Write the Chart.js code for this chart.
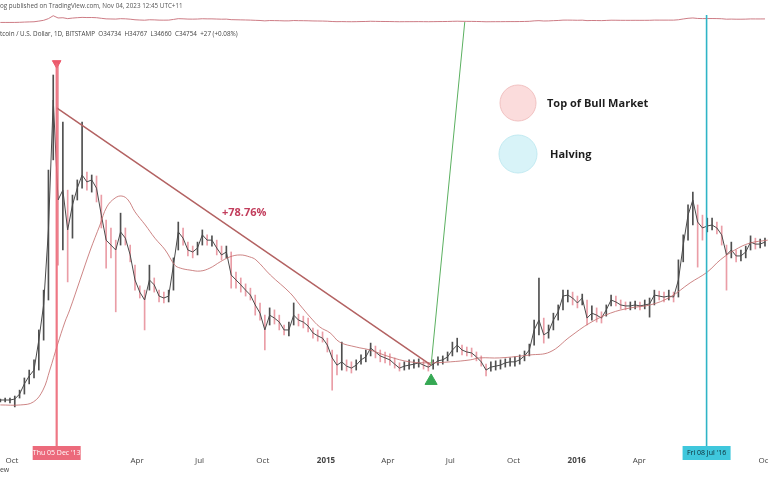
<!DOCTYPE html>
<html>
<head>
<meta charset="utf-8">
<script src="https://cdn.jsdelivr.net/npm/chart.js@4.4.0/dist/chart.umd.min.js"></script>
<style>
  html, body { margin: 0; padding: 0; background: #fff; }
</style>
</head>
<body>
<canvas id="btc" width="768" height="480"></canvas>
<script>
// BTC/USD (Bitstamp), one sample per week.
// Days are counted from 1 Oct 2013.
const firstWeekDay = -17;
const weekCloses = [
  140, 140, 140, 143, 158, 189, 213, 231, 322, 429, 657, 1052, 748, 778, 657, 733,
  784, 824, 803, 809, 784, 702, 626, 611, 596, 651, 632, 581, 505, 468, 444, 505,
  490, 456, 450, 456, 550, 651, 632, 596, 590, 602, 642, 626, 626, 602, 581, 590,
  520, 505, 490, 474, 459, 429, 404, 353, 398, 389, 377, 353, 353, 398, 383, 377,
  365, 344, 335, 328, 307, 268, 246, 256, 243, 237, 246, 262, 271, 298, 286, 274,
  268, 262, 249, 237, 243, 246, 249, 253, 246, 240, 249, 259, 262, 271, 292, 307,
  292, 286, 283, 271, 256, 231, 240, 243, 246, 253, 256, 256, 262, 274, 292, 353,
  383, 338, 347, 383, 408, 456, 459, 450, 435, 450, 389, 404, 398, 389, 414, 444,
  438, 429, 426, 426, 429, 426, 429, 432, 459, 456, 453, 456, 453, 505, 611, 702,
  748, 681, 663, 669, 672, 663, 642, 581, 596, 578, 578, 590, 620, 614, 614, 620
];
const weekHighs = [
  143, 146, 146, 152, 170, 207, 231, 262, 353, 474, 839, 1128, 1168, 985, 778, 763,
  809, 985, 833, 824, 821, 763, 687, 663, 626, 708, 663, 611, 550, 487, 474, 550,
  511, 474, 468, 474, 572, 681, 663, 620, 608, 620, 657, 642, 639, 626, 608, 608,
  590, 529, 511, 493, 480, 459, 435, 398, 420, 414, 398, 368, 377, 435, 401, 395,
  389, 359, 353, 347, 328, 292, 277, 316, 262, 256, 262, 277, 292, 313, 304, 292,
  286, 280, 268, 253, 256, 262, 262, 265, 259, 253, 262, 271, 274, 286, 316, 328,
  307, 301, 298, 286, 274, 249, 256, 259, 262, 265, 268, 271, 277, 289, 310, 383,
  511, 389, 368, 404, 429, 474, 474, 468, 456, 462, 444, 426, 420, 408, 429, 459,
  456, 444, 438, 438, 441, 438, 444, 450, 474, 471, 468, 474, 468, 566, 642, 733,
  772, 733, 702, 693, 693, 681, 669, 611, 620, 596, 596, 608, 639, 632, 629, 632
];
const weekLows = [
  134, 134, 131, 119, 146, 158, 189, 207, 231, 322, 444, 870, 550, 596, 499, 632,
  748, 784, 778, 772, 742, 663, 541, 572, 408, 611, 611, 560, 474, 450, 353, 474,
  468, 438, 435, 438, 474, 596, 611, 578, 572, 581, 611, 611, 608, 581, 566, 572,
  480, 480, 468, 456, 444, 398, 383, 292, 368, 371, 353, 338, 335, 368, 365, 359,
  347, 328, 319, 316, 286, 170, 216, 231, 228, 222, 231, 249, 256, 274, 268, 256,
  253, 246, 237, 228, 231, 234, 237, 240, 234, 228, 234, 246, 249, 259, 274, 286,
  277, 274, 271, 259, 243, 213, 228, 231, 234, 240, 243, 243, 249, 259, 274, 307,
  338, 313, 328, 353, 383, 414, 438, 429, 420, 429, 368, 383, 377, 374, 395, 426,
  426, 417, 414, 414, 417, 414, 417, 392, 429, 444, 438, 444, 438, 453, 560, 626,
  672, 544, 626, 651, 657, 645, 611, 474, 572, 560, 563, 572, 596, 599, 602, 608
];

// moving average, read at a handful of points
const maDays = [
  -17, 12, 31, 45, 55, 66, 77, 84, 99, 114, 128, 138, 150, 160, 169, 179,
  194, 208, 223, 237, 245, 259, 274, 288, 303, 317, 332, 346, 355, 376, 405, 419,
  434, 448, 463, 477, 501, 521, 550, 579, 608, 638, 667, 681, 710, 754, 783, 812,
  841, 871, 900, 929, 958, 987, 1012, 1031, 1052, 1074, 1100
];
const maValues = [
  125, 125, 134, 170, 231, 307, 377, 414, 505, 596, 672, 727, 754, 760, 748, 712,
  672, 632, 596, 550, 541, 535, 532, 541, 560, 575, 581, 575, 566, 520, 465, 429,
  392, 362, 344, 316, 301, 292, 271, 256, 253, 256, 262, 268, 268, 277, 286, 332,
  374, 404, 420, 429, 453, 496, 529, 566, 596, 617, 626
];

// time axis
const tickDays = [0, 182, 273, 365, 457, 547, 638, 730, 822, 913, 1096];
const tickLabels = ['Oct', 'Apr', 'Jul', 'Oct', '2015', 'Apr', 'Jul', 'Oct', '2016', 'Apr', 'Oct'];

// drawings on the chart
const topDay = 65;        // Thu 05 Dec '13
const halvingDay = 1011;  // Fri 08 Jul '16
const topArrowPrice = 1164;
const trendDays = [65, 610];
const trendPrices = [1028, 246];
const breakoutDays = [610, 659];
const breakoutPrices = [246, 1289];
const markerDay = 610;
const markerPrice = 198;
const gainDay = 338;
const gainPrice = 708;

const weekDays = weekCloses.map((_, i) => firstWeekDay + 7 * i);
const wickColors = weekCloses.map((c, i) =>
  i > 0 && c < weekCloses[i - 1] ? 'rgba(230,140,150,0.85)' : 'rgba(60,60,60,0.9)');

const drawings = {
  id: 'drawings',
  afterDatasetsDraw(chart) {
    const { ctx, chartArea, scales: { x, y } } = chart;
    ctx.save();

    const xt = x.getPixelForValue(topDay);
    ctx.strokeStyle = 'rgba(236,104,120,0.9)';
    ctx.lineWidth = 2.2;
    ctx.beginPath();
    ctx.moveTo(xt, y.getPixelForValue(topArrowPrice));
    ctx.lineTo(xt, chartArea.bottom + 3);
    ctx.stroke();

    const xh = x.getPixelForValue(halvingDay);
    ctx.strokeStyle = '#2fb4c6';
    ctx.lineWidth = 1.6;
    ctx.beginPath();
    ctx.moveTo(xh, 15);
    ctx.lineTo(xh, chartArea.bottom + 3);
    ctx.stroke();

    ctx.fillStyle = '#c23d5c';
    ctx.font = 'bold 11px "Open Sans"';
    ctx.textAlign = 'center';
    ctx.textBaseline = 'middle';
    ctx.fillText('+78.76%', x.getPixelForValue(gainDay), y.getPixelForValue(gainPrice));

    ctx.restore();
  },
  afterDraw(chart) {
    const { ctx, scales: { x } } = chart;
    ctx.save();

    // header
    ctx.fillStyle = '#555';
    ctx.font = '6.3px "Open Sans"';
    ctx.textAlign = 'left';
    ctx.textBaseline = 'middle';
    ctx.fillText('og published on TradingView.com, Nov 04, 2023 12:45 UTC+11', 0, 6);
    ctx.fillStyle = '#444';
    ctx.fillText('tcoin / U.S. Dollar, 1D, BITSTAMP  O34734  H34767  L34660  C34754  +27 (+0.08%)', 0, 34);
    ctx.font = '7px "Open Sans"';
    ctx.fillText('View', -6, 470);

    // legend
    const items = [
      { label: 'Top of Bull Market', fill: 'rgba(250,214,214,0.85)', edge: 'rgba(240,190,190,0.9)', cy: 103, r: 18, tx: 547 },
      { label: 'Halving', fill: 'rgba(212,242,247,0.9)', edge: 'rgba(190,232,240,0.9)', cy: 154, r: 19, tx: 550 }
    ];
    items.forEach(it => {
      ctx.beginPath();
      ctx.arc(518, it.cy, it.r, 0, Math.PI * 2);
      ctx.fillStyle = it.fill;
      ctx.fill();
      ctx.strokeStyle = it.edge;
      ctx.lineWidth = 1;
      ctx.stroke();
      ctx.fillStyle = '#1e1e1e';
      ctx.font = 'bold 11px "Open Sans"';
      ctx.textAlign = 'left';
      ctx.fillText(it.label, it.tx, it.cy + 1);
    });

    // date badges on the time axis
    const badges = [
      { day: topDay, text: "Thu 05 Dec '13", fill: '#ec6a7b', color: '#fff' },
      { day: halvingDay, text: "Fri 08 Jul '16", fill: '#3fc7dc', color: '#0c2a33' }
    ];
    badges.forEach(b => {
      const cx = x.getPixelForValue(b.day);
      ctx.fillStyle = b.fill;
      ctx.fillRect(cx - 24, 446, 48, 14);
      ctx.fillStyle = b.color;
      ctx.font = '7px "Open Sans"';
      ctx.textAlign = 'center';
      ctx.fillText(b.text, cx, 453);
    });

    ctx.restore();
  }
};

new Chart(document.getElementById('btc'), {
  type: 'line',
  data: {
    datasets: [
      {
        label: 'Strip',
        data: weekDays.map((d, i) => ({ x: d, y: weekCloses[i] })),
        yAxisID: 'yTop',
        borderColor: 'rgba(200,110,120,0.9)',
        borderWidth: 1,
        pointRadius: 0,
        order: 5
      },
      {
        label: 'Range',
        type: 'bar',
        data: weekDays.map((d, i) => ({ x: d, y: [weekLows[i], weekHighs[i]] })),
        backgroundColor: wickColors,
        barThickness: 1,
        grouped: false,
        order: 4
      },
      {
        label: 'BTCUSD',
        data: weekDays.map((d, i) => ({ x: d, y: weekCloses[i] })),
        borderColor: '#4a4a4a',
        borderWidth: 1,
        pointRadius: 0,
        order: 3
      },
      {
        label: 'MA',
        data: maDays.map((d, i) => ({ x: d, y: maValues[i] })),
        borderColor: 'rgba(196,112,112,0.85)',
        borderWidth: 1,
        pointRadius: 0,
        tension: 0.4,
        order: 2
      },
      {
        label: 'Trend',
        data: trendDays.map((d, i) => ({ x: d, y: trendPrices[i] })),
        borderColor: '#b36262',
        borderWidth: 1.5,
        pointRadius: 0,
        order: 1
      },
      {
        label: 'Breakout',
        data: breakoutDays.map((d, i) => ({ x: d, y: breakoutPrices[i] })),
        borderColor: '#5bb060',
        borderWidth: 1,
        pointRadius: 0,
        order: 1
      },
      {
        label: 'Marker',
        type: 'scatter',
        data: [{ x: markerDay, y: markerPrice }],
        pointStyle: 'triangle',
        pointRadius: 7,
        backgroundColor: '#35a853',
        borderColor: '#35a853',
        order: 0
      },
      {
        label: 'Top',
        type: 'scatter',
        data: [{ x: topDay, y: topArrowPrice }],
        pointStyle: 'triangle',
        rotation: 180,
        pointRadius: 5,
        backgroundColor: '#ec5a6c',
        borderColor: '#ec5a6c',
        order: 0
      }
    ]
  },
  options: {
    responsive: false,
    animation: false,
    layout: { padding: 0, autoPadding: false },
    plugins: {
      legend: { display: false },
      tooltip: { enabled: false }
    },
    scales: {
      x: {
        type: 'linear',
        min: -17.5,
        max: 1100.4,
        offset: false,
        grid: { display: false },
        border: { display: false },
        afterBuildTicks: (scale) => {
          scale.ticks = tickDays.map(v => ({ value: v }));
        },
        afterFit: (scale) => {
          scale.height = 37;
          scale.paddingLeft = 0;
          scale.paddingRight = 0;
        },
        ticks: {
          autoSkip: false,
          maxRotation: 0,
          padding: 5,
          color: '#444',
          font: (c) => ({
            family: 'Open Sans',
            size: 8,
            weight: /^\d{4}$/.test(tickLabels[c.index] || '') ? 'bold' : 'normal'
          }),
          callback: (value, index) => tickLabels[index]
        }
      },
      y: {
        display: false,
        min: 9.3,
        max: 1356
      },
      yTop: {
        display: false,
        min: -56935,
        max: 3186
      }
    }
  },
  plugins: [drawings]
});
</script>
</body>
</html>
